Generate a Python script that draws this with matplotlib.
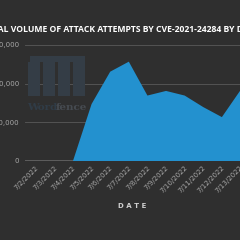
import matplotlib

matplotlib.use("Agg")
import matplotlib.pyplot as plt
from matplotlib.patches import Rectangle

# data
dates = ["7/2/2022", "7/3/2022", "7/4/2022", "7/5/2022", "7/6/2022", "7/7/2022",
         "7/8/2022", "7/9/2022", "7/10/2022", "7/11/2022", "7/12/2022", "7/13/2022"]
attempts = [0, 0, 0, 74000, 116000, 129000, 85000, 91000, 85000, 70000, 57000, 92000]
yticks = [0, 50000, 100000, 150000]
title = "TOTAL VOLUME OF ATTACK ATTEMPTS BY CVE-2021-24284 BY DATE"

BG = "#2f2f2f"
BLUE = "#2391cf"
GREY = "#a8a8a8"

W = H = 240
fig = plt.figure(figsize=(2.4, 2.4), dpi=100, facecolor=BG)

# axes box in pixel coords (from top-left)
left, right, top, bottom = 25, 240, 45, 160.5
ax = fig.add_axes([left / W, 1 - bottom / H, (right - left) / W, (bottom - top) / H])
ax.set_facecolor(BG)

x = list(range(len(dates)))
ax.fill_between(x, attempts, 0, color=BLUE, lw=0, zorder=3)

ax.set_ylim(0, 150000)
ax.set_xlim(-0.55, 10.65)
ax.set_yticks(yticks)
ax.set_yticklabels([f"{v:,}" for v in yticks])
ax.set_xticks(x)
ax.set_xticklabels(dates, rotation=45, ha="right", rotation_mode="anchor")
ax.tick_params(axis="both", length=0, colors=GREY, labelsize=5)
ax.tick_params(axis="y", pad=4)
ax.tick_params(axis="x", pad=3)
for s in ax.spines.values():
    s.set_visible(False)
ax.grid(axis="y", color="#5a5a5a", lw=0.6, zorder=1)
ax.axhline(0, color="#666666", lw=1.2, zorder=2)
ax.set_xlabel("D A T E", color="#cfcfcf", fontsize=5, fontweight="bold", labelpad=6)

# faint Wordfence watermark
wm = "#343d46"
for bx in [28, 43, 58, 73]:
    fig.add_artist(Rectangle((bx / W, 1 - 96 / H), 12 / W, 34 / H,
                             transform=fig.transFigure, color=wm, lw=0, zorder=0.5))
fig.add_artist(Rectangle((30 / W, 1 - 62 / H), 55 / W, 6 / H,
                         transform=fig.transFigure, color=wm, lw=0, zorder=0.5))
fig.text(27 / W, 1 - 110 / H, "Word", color="#303c47", fontsize=7.5,
         family="DejaVu Serif", fontweight="bold", va="baseline")
fig.text(56 / W, 1 - 110 / H, "fence", color="#464b51", fontsize=7.5,
         family="DejaVu Serif", fontweight="bold", va="baseline")

fig.text(0.5, 1 - 29 / H, title, color="white", fontsize=6.2, fontweight="bold",
         ha="center", va="center", family="Open Sans")

fig.savefig("out.png", dpi=100, facecolor=BG)
